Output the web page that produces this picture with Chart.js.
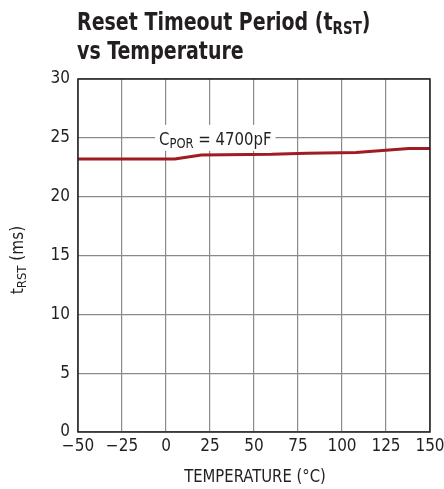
<!DOCTYPE html>
<html>
<head>
<meta charset="utf-8">
<script src="https://cdn.jsdelivr.net/npm/chart.js@4.4.1/dist/chart.umd.min.js"></script>
<style>
  html, body { margin: 0; padding: 0; background: #fff; }
  #wrap { width: 444px; height: 489px; position: relative; }
</style>
</head>
<body>
<div id="wrap"><canvas id="c" width="444" height="489"></canvas></div>
<script>
// ---- data ----
const temperatures = [-50, 5, 20, 60, 80, 108, 138, 150];
const tRST = [23.2, 23.2, 23.55, 23.6, 23.7, 23.75, 24.1, 24.1];
const xTicks = [-50, -25, 0, 25, 50, 75, 100, 125, 150];
const yTicks = [0, 5, 10, 15, 20, 25, 30];
const annotationPoint = [28, 25];
const titleLines = ['Reset Timeout Period (t', 'vs Temperature'];

const FONT = '"Liberation Sans Narrow", "DejaVu Sans Condensed", "Liberation Sans", sans-serif';
const TEXT = '#231f20';

function drawSubText(ctx, parts, x, y, sx) {
  sx = sx || 1;
  ctx.save();
  ctx.translate(x, y);
  ctx.scale(sx, 1);
  let cx = 0;
  for (const [t, size, weight, dy] of parts) {
    ctx.font = `${weight} ${size}px ${FONT}`;
    ctx.fillText(t, cx, dy);
    cx += ctx.measureText(t).width;
  }
  ctx.restore();
  return cx * sx;
}
function measureSub(ctx, parts, sx) {
  let w = 0;
  for (const [t, size, weight] of parts) {
    ctx.font = `${weight} ${size}px ${FONT}`;
    w += ctx.measureText(t).width;
  }
  return w * (sx || 1);
}

const decor = {
  id: 'decor',
  beforeDatasetsDraw(chart) {
    const ctx = chart.ctx;
    const xs = chart.scales.x, ys = chart.scales.y;
    const parts = [['C', 18, 'normal', 0], ['POR', 14, 'normal', 3], [' = 4700pF', 18, 'normal', 0]];
    const sx = 0.92;
    const w = measureSub(ctx, parts, sx);
    const cx = xs.getPixelForValue(annotationPoint[0]);
    const cy = ys.getPixelForValue(annotationPoint[1]);
    ctx.save();
    ctx.fillStyle = '#fff';
    ctx.fillRect(cx - w / 2 - 4, cy - 13, w + 8, 26);
    ctx.fillStyle = TEXT;
    ctx.textBaseline = 'alphabetic';
    drawSubText(ctx, parts, cx - w / 2, cy + 7, sx);
    ctx.restore();
  },
  afterDraw(chart) {
    const ctx = chart.ctx;
    const a = chart.chartArea;
    ctx.save();
    // frame
    ctx.strokeStyle = '#231f20';
    ctx.lineWidth = 1.5;
    ctx.strokeRect(a.left, a.top, a.right - a.left, a.bottom - a.top);
    // title
    ctx.fillStyle = TEXT;
    ctx.textBaseline = 'alphabetic';
    drawSubText(ctx, [[titleLines[0], 24, 'bold', 0], ['RST', 17, 'bold', 4], [')', 24, 'bold', 0]], 77, 30, 0.88);
    drawSubText(ctx, [[titleLines[1], 24, 'bold', 0]], 77, 59, 0.88);
    // x title
    ctx.textAlign = 'left';
    const xparts = [['TEMPERATURE (\u00B0C)', 17, 'normal', 0]];
    const xw = measureSub(ctx, xparts, 0.97);
    drawSubText(ctx, xparts, (a.left + a.right) / 2 - xw / 2 + 1, 482, 0.97);
    // y title
    const yparts = [['t', 17, 'normal', 0], ['RST', 13, 'normal', 3], [' (ms)', 17, 'normal', 0]];
    const yw = measureSub(ctx, yparts);
    ctx.translate(23, 260);
    ctx.rotate(-Math.PI / 2);
    drawSubText(ctx, yparts, -yw / 2, 0);
    ctx.restore();
  }
};

new Chart(document.getElementById('c'), {
  type: 'line',
  data: {
    datasets: [{
      data: temperatures.map((t, i) => ({ x: t, y: tRST[i] })),
      borderColor: '#a01b22',
      borderWidth: 3,
      pointRadius: 0,
      tension: 0,
      fill: false
    }]
  },
  options: {
    responsive: false,
    animation: false,
    devicePixelRatio: 1,
    layout: { padding: { top: 79, right: 14, bottom: 0, left: 0 } },
    plugins: { legend: { display: false }, tooltip: { enabled: false }, title: { display: false } },
    scales: {
      x: {
        type: 'linear', min: -50, max: 150,
        afterBuildTicks: s => { s.ticks = xTicks.map(v => ({ value: v })); },
        afterFit: s => { s.height = 57; s.paddingLeft = 0; s.paddingRight = 0; },
        grid: { color: '#8a8a8a', lineWidth: 1.2, drawTicks: false },
        border: { display: false },
        ticks: {
          padding: 4, color: TEXT, font: { family: FONT, size: 17 },
          maxRotation: 0, autoSkip: false,
          callback: v => String(v).replace('-', '\u2212')
        }
      },
      y: {
        type: 'linear', min: 0, max: 30,
        afterBuildTicks: s => { s.ticks = yTicks.map(v => ({ value: v })); },
        afterFit: s => { s.width = 78; s.paddingTop = 0; s.paddingBottom = 0; },
        grid: { color: '#8a8a8a', lineWidth: 1.2, drawTicks: false },
        border: { display: false },
        ticks: { padding: 8, color: TEXT, font: { family: FONT, size: 17 } }
      }
    }
  },
  plugins: [decor]
});
</script>
</body>
</html>
